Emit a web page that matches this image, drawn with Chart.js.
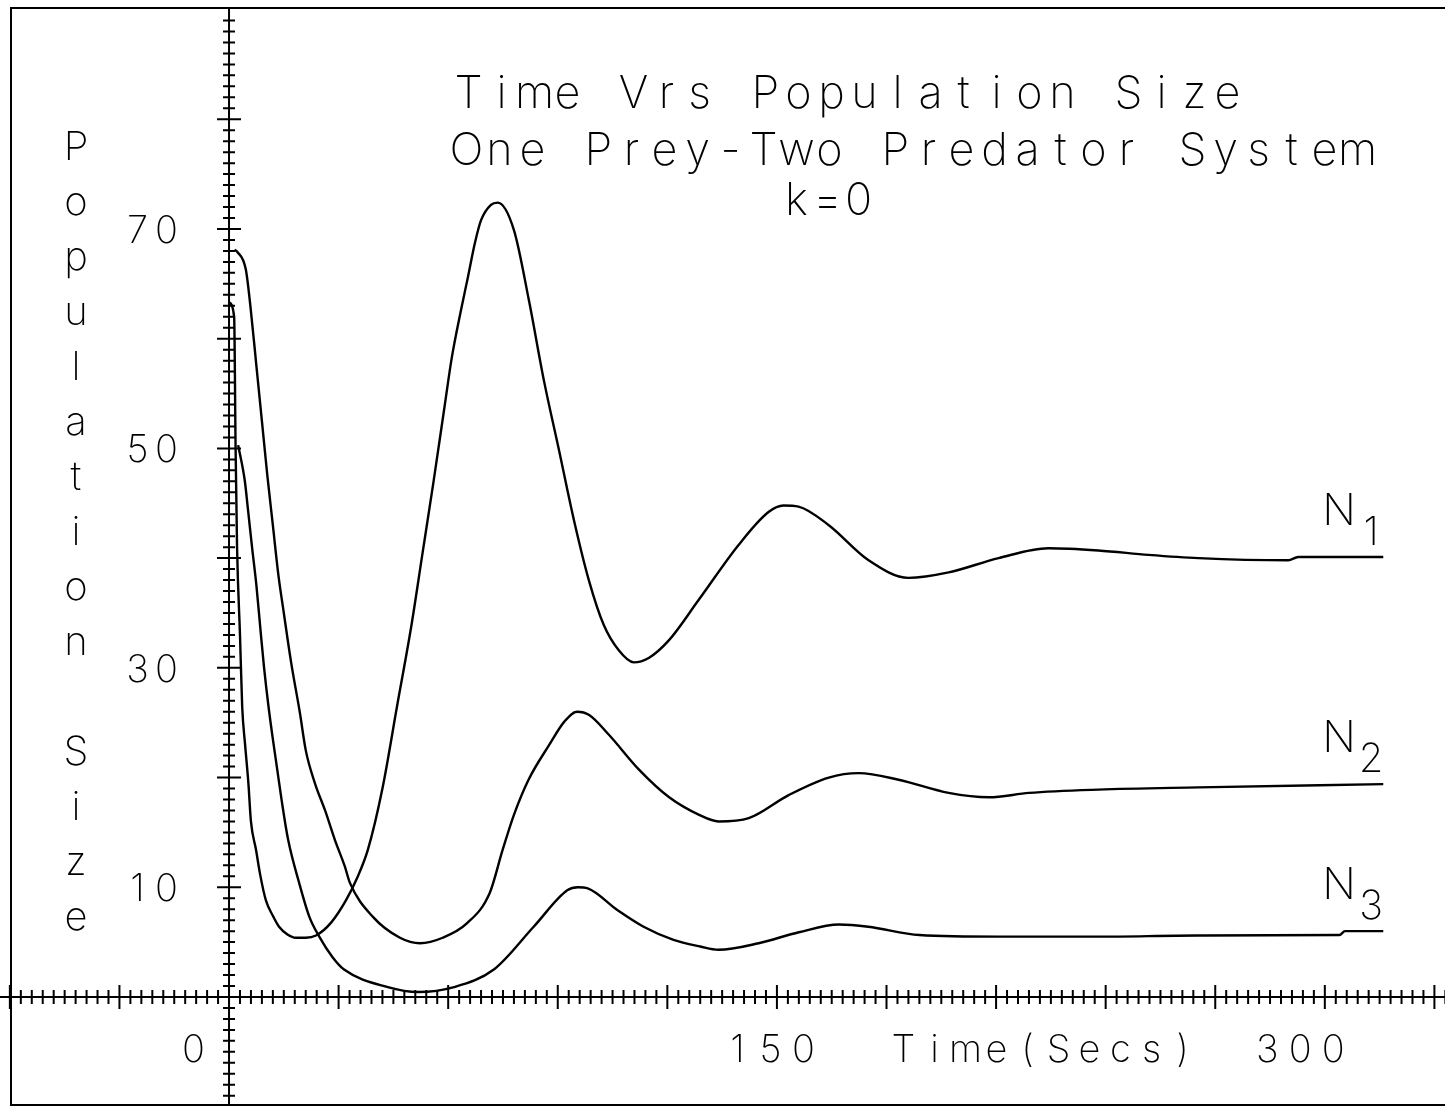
<!DOCTYPE html>
<html>
<head>
<meta charset="utf-8">
<script src="https://cdn.jsdelivr.net/npm/chart.js@4.4.1/dist/chart.umd.min.js"></script>
<style>
  html, body { margin: 0; padding: 0; background: #fff; }
  canvas { display: block; }
</style>
</head>
<body>
<canvas id="grafico" width="1445" height="1109"></canvas>
<script>
// valores (tiempo en segundos, tamaño de poblacion)
const n1Tiempo = [0, 1.4, 1.8, 2.2, 3.0, 3.6, 4.4, 5.3, 6.0, 7.4, 8.5, 10.1, 12, 13.7, 16, 18.3, 21, 23.8, 28, 32, 35, 38, 42, 46, 50, 53, 56, 59, 61, 63.5, 65.4, 67.3, 69, 71.7, 73.6, 78, 82.1, 86.2, 90.3, 94.4, 98.5, 102.6, 106.7, 110.8, 114.9, 120.4, 128.6, 139.5, 147.7, 151.8, 155.9, 164.2, 175.1, 186, 197, 210.7, 224.3, 238, 251.7, 265.4, 290, 292.7, 316];
const n1Poblacion = [63.3, 62, 50, 41, 33, 26.5, 23, 19.5, 16, 13.4, 11.2, 8.8, 7.4, 6.4, 5.7, 5.4, 5.4, 5.6, 6.8, 8.8, 10.8, 13.4, 19, 26.5, 34, 40.5, 47, 53.8, 58.3, 62.6, 65.6, 68.7, 70.8, 72.2, 72.4, 69.9, 63.5, 56.2, 49.9, 43.5, 38, 33.9, 31.6, 30.5, 30.9, 32.5, 36.2, 41.2, 44.2, 44.8, 44.7, 43, 39.8, 38.2, 38.7, 40, 40.9, 40.7, 40.3, 40, 39.8, 40.1, 40.1];

const n2Tiempo = [1.5, 2.3, 4.6, 6.0, 7.5, 9.0, 10.5, 12.0, 13.5, 15.0, 17.0, 19.4, 21.0, 23.5, 26.3, 29.0, 31.7, 33.1, 39.4, 46.8, 52.3, 58.5, 65.1, 71.4, 74.9, 78, 82, 87.7, 91.8, 95.3, 98.6, 104, 112.3, 120.5, 128.7, 134, 142.3, 153.2, 164.2, 172.4, 183.3, 197, 208, 219, 238, 265.4, 316];
const n2Poblacion = [68.1, 67.9, 66.3, 62.5, 57.5, 52.5, 47.5, 43, 38.5, 35, 30.5, 25.9, 22.5, 19.5, 17, 14.3, 11.9, 10.4, 7.3, 5.4, 4.9, 5.4, 6.7, 9.5, 13.4, 16.6, 19.8, 23, 25.1, 26, 25.7, 23.9, 20.7, 18.2, 16.6, 16, 16.3, 18.4, 20, 20.4, 19.8, 18.6, 18.2, 18.6, 18.9, 19.1, 19.4];

const n3Tiempo = [2.5, 4.3, 5.2, 6.3, 7.5, 8.6, 9.6, 10.8, 12.0, 13.3, 14.6, 16.2, 19.2, 22, 24.7, 28.4, 31.5, 43.5, 51.7, 61.6, 72.5, 83.4, 92.7, 95.5, 98.2, 106.4, 113.5, 121.7, 129, 134, 145, 156, 167, 175, 189, 211, 238, 265, 304, 305.5, 316];
const n3Poblacion = [50.3, 47.1, 44.4, 41, 37.5, 33.5, 30, 26.5, 23.5, 20.5, 17.5, 14.3, 10.4, 7.3, 5.5, 3.6, 2.5, 0.9, 0.45, 0.9, 2.5, 6.4, 9.75, 10, 9.9, 7.9, 6.4, 5.2, 4.6, 4.3, 4.9, 5.9, 6.6, 6.4, 5.65, 5.5, 5.5, 5.6, 5.65, 6.0, 6.0];

const etiquetasY = [70, 50, 30, 10];
const etiquetasX = ['0', '150', '300'];
const titulo = ['Time Vrs Population Size', 'One Prey-Two Predator System', 'k=0'];
const tituloEjeX = 'Time(Secs)';
const tituloEjeY = 'Population Size';
const nombresSeries = [['N', '1'], ['N', '2'], ['N', '3']];

const FUENTE = '"Inter", "DejaVu Sans", sans-serif';

// dibuja texto caracter por caracter, como el plotter
function textoPlotter(ctx, texto, x, y, celda) {
    for (let i = 0; i < texto.length; i++) {
        ctx.fillText(texto[i], x + celda * i + celda / 2, y);
    }
}

function puntos(tiempos, valores) {
    return tiempos.map((t, i) => ({ x: t, y: valores[i] }));
}

const ejesPlotter = {
    id: 'ejesPlotter',
    beforeDatasetsDraw(chart) {
        const ctx = chart.ctx;
        const sx = chart.scales.x;
        const sy = chart.scales.y;
        const x0 = sx.getPixelForValue(0);
        const y0 = sy.getPixelForValue(0);
        ctx.save();
        ctx.strokeStyle = '#000';
        ctx.lineWidth = 2;

        // marco
        ctx.beginPath();
        ctx.moveTo(1445, 8);
        ctx.lineTo(11, 8);
        ctx.lineTo(11, 1105);
        ctx.lineTo(1445, 1105);
        ctx.stroke();

        // ejes
        ctx.beginPath();
        ctx.moveTo(0, y0);
        ctx.lineTo(1445, y0);
        ctx.moveTo(x0, 8);
        ctx.lineTo(x0, 1105);
        ctx.stroke();

        // marcas del eje y
        ctx.beginPath();
        for (let v = -10; v <= 90; v++) {
            const py = sy.getPixelForValue(v);
            if (py < 10 || py > 1104) continue;
            const largo = v % 10 === 0 ? 12 : 6;
            ctx.moveTo(x0 - largo, py);
            ctx.lineTo(x0 + largo, py);
        }
        // marcas del eje x
        for (let t = -63; t <= 333; t += 3) {
            const px = sx.getPixelForValue(t);
            if (px < 2) continue;
            const largo = t % 30 === 0 ? 12 : 7;
            ctx.moveTo(px, y0 - largo);
            ctx.lineTo(px, y0 + largo);
        }
        ctx.stroke();
        ctx.restore();
    },
    afterDraw(chart) {
        const ctx = chart.ctx;
        const sx = chart.scales.x;
        const sy = chart.scales.y;
        const x0 = sx.getPixelForValue(0);
        ctx.save();
        ctx.fillStyle = '#000';
        ctx.textAlign = 'center';
        ctx.textBaseline = 'alphabetic';

        // titulo
        ctx.font = '200 45px ' + FUENTE;
        textoPlotter(ctx, titulo[0], 452, 108, 33);
        textoPlotter(ctx, titulo[1], 450, 165, 33);
        textoPlotter(ctx, titulo[2], 781, 215, 31);

        // etiquetas del eje y
        ctx.font = '200 38px ' + FUENTE;
        etiquetasY.forEach(v => {
            textoPlotter(ctx, String(v), x0 - 106, sy.getPixelForValue(v) + 14, 29);
        });

        // etiquetas del eje x
        const baseX = 1062;
        const desplaz = [-52, -56, -74];
        [0, 150, 300].forEach((t, i) => {
            textoPlotter(ctx, etiquetasX[i], sx.getPixelForValue(t) + desplaz[i], baseX, 33);
        });
        textoPlotter(ctx, tituloEjeX, 888, baseX, 31);

        // titulo del eje y, letras apiladas
        ctx.font = '200 40px ' + FUENTE;
        for (let i = 0; i < tituloEjeY.length; i++) {
            ctx.fillText(tituloEjeY[i], 76, 160 + 55 * i);
        }

        // nombres de las series al final de cada curva
        chart.data.datasets.forEach((ds, i) => {
            const ultimo = ds.data[ds.data.length - 1];
            const py = sy.getPixelForValue(ultimo.y);
            ctx.font = '200 44px ' + FUENTE;
            ctx.fillText(nombresSeries[i][0], 1339, py - 32);
            ctx.font = '200 40px ' + FUENTE;
            ctx.fillText(nombresSeries[i][1], 1371, py - 12);
        });
        ctx.restore();
    }
};

const ctx = document.getElementById('grafico').getContext('2d');
const grafico = new Chart(ctx, {
    type: 'line',
    data: {
        datasets: [
            { label: 'N1', data: puntos(n1Tiempo, n1Poblacion) },
            { label: 'N2', data: puntos(n2Tiempo, n2Poblacion) },
            { label: 'N3', data: puntos(n3Tiempo, n3Poblacion) }
        ]
    },
    options: {
        responsive: false,
        animation: false,
        devicePixelRatio: 1,
        layout: { padding: 0 },
        elements: {
            point: { radius: 0 },
            line: { borderColor: '#000', borderWidth: 2.4, cubicInterpolationMode: 'monotone', fill: false }
        },
        plugins: { legend: { display: false }, tooltip: { enabled: false } },
        scales: {
            x: { type: 'linear', min: -62.7, max: 332.9, display: false },
            y: { type: 'linear', min: -10.21, max: 90.87, display: false }
        }
    },
    plugins: [ejesPlotter]
});
</script>
</body>
</html>
